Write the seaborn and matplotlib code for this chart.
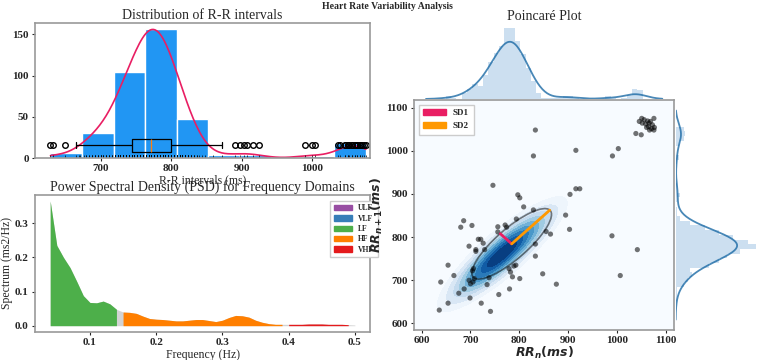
import numpy as np
import pandas as pd
import matplotlib
matplotlib.use("Agg")
import matplotlib.pyplot as plt
from matplotlib.patches import Ellipse, Patch
import seaborn as sns

# R-R intervals (ms) as a frequency table: value -> number of beats
rr_values = [629, 633, 650, 665, 669, 671,
             676, 680, 684, 688, 692, 696, 700, 704, 708, 712, 716,
             720, 724, 728, 732, 736, 740, 744, 748, 752, 756, 760,
             764, 768, 772, 776, 780, 784, 788, 792, 796, 800, 804,
             808, 812, 816, 820, 824, 828, 832, 836, 840, 844, 848,
             860, 872, 891, 897, 903, 908, 916, 924,
             990, 1000, 1004,
             1036, 1040, 1046, 1050, 1052, 1056, 1060, 1064, 1067, 1071, 1073, 1076]
rr_counts = [1, 1, 1, 1, 1, 1,
             1, 2, 2, 3, 3, 3, 4, 3, 3, 3, 3,
             6, 7, 8, 8, 9, 10, 10, 11, 11, 12, 13,
             15, 16, 17, 17, 16, 15, 14, 13, 12, 11, 10,
             9, 8, 7, 6, 5, 4, 3, 2, 1, 1, 1,
             1, 1, 1, 1, 1, 1, 1, 1,
             1, 1, 1,
             1, 1, 2, 2, 1, 2, 2, 2, 2, 1, 1, 1]

# Poincare pairs drawn as dots (outside the SD ellipse)
out_x = [746, 797, 801, 809, 829, 904, 916, 924, 895, 903, 855, 864, 794, 833, 833,
         756, 686, 703, 680, 771, 774, 756, 697, 716, 721, 726, 729, 711, 711,
         654, 666, 687, 676, 699, 697, 700, 705, 708, 704, 706, 654, 636, 639, 722, 741,
         758, 780, 734, 738, 786, 801, 789, 793, 779, 782, 848, 876, 990, 1007, 1042,
         833, 829, 916, 991, 1003, 1039, 1050,
         1051, 1056, 1063, 1069, 1076, 1052, 1059, 1066, 1073, 1065, 1071, 1077, 1067,
         1076, 1046, 1061]
out_y = [920, 898, 891, 870, 863, 899, 912, 912, 851, 818, 813, 807, 842, 784, 756,
         824, 838, 827, 823, 828, 823, 812, 779, 795, 795, 786, 771, 771, 767,
         735, 711, 680, 670, 659, 700, 692, 696, 704, 722, 727, 647, 631, 696, 647, 628,
         667, 680, 690, 706, 708, 704, 733, 735, 727, 719, 715, 691, 803, 711, 771,
         1048, 988, 1001, 988, 1005, 1040, 1037,
         1075, 1072, 1069, 1068, 1075, 1064, 1062, 1064, 1060, 1056, 1051, 1054, 1048,
         1048, 1068, 1054]
# Poincare pairs hidden under the density (each stands for several beats)
in_x = [765, 770, 760, 775, 755, 780, 768, 762, 772, 750, 745, 785, 790, 740, 735,
        795, 758, 778, 766, 752, 782, 748, 774, 760, 730, 800, 810, 725, 720, 805,
        742, 788, 764, 770, 756, 776, 738, 798, 815, 715, 825, 768, 762, 772, 758,
        780, 750, 792, 735, 745]
in_y = [760, 765, 755, 770, 750, 772, 758, 768, 776, 742, 740, 780, 788, 735, 728,
        790, 762, 766, 772, 758, 774, 750, 762, 748, 725, 798, 805, 718, 715, 792,
        748, 778, 770, 758, 744, 780, 742, 786, 812, 708, 818, 764, 760, 768, 760,
        778, 755, 795, 738, 732]
in_weight = 5
sd1 = 33
sd2 = 110

# Power spectral density
freq = [0.04, 0.05, 0.06, 0.07, 0.08, 0.09, 0.10, 0.11, 0.12, 0.13, 0.14, 0.15,
        0.16, 0.17, 0.18, 0.19, 0.20, 0.21, 0.22, 0.23, 0.24, 0.25, 0.26, 0.27,
        0.28, 0.29, 0.30, 0.31, 0.32, 0.33, 0.34, 0.35, 0.36, 0.37, 0.38, 0.39,
        0.40, 0.41, 0.42, 0.43, 0.44, 0.45, 0.46, 0.47, 0.48, 0.49, 0.50]
psd = [0.365, 0.235, 0.200, 0.170, 0.130, 0.088, 0.068, 0.067, 0.072, 0.064, 0.048, 0.040,
       0.039, 0.036, 0.028, 0.021, 0.019, 0.018, 0.016, 0.014, 0.014, 0.016, 0.018, 0.018,
       0.015, 0.012, 0.016, 0.024, 0.030, 0.029, 0.025, 0.016, 0.010, 0.006, 0.004, 0.004,
       0.004, 0.004, 0.004, 0.005, 0.005, 0.005, 0.004, 0.004, 0.004, 0.003, 0.002]
bands = ["ULF", "VLF", "LF", "HF", "VHF"]
band_lims = [(0, 0.0033), (0.0033, 0.04), (0.04, 0.15), (0.15, 0.4), (0.4, 0.5)]
band_colors = ["#984ea3", "#377eb8", "#4daf4a", "#ff7f00", "#e41a1c"]

sns.set_style("ticks")
plt.rcParams["font.family"] = ["Liberation Serif", "DejaVu Serif"]
plt.rcParams["font.weight"] = "bold"
plt.rcParams["axes.edgecolor"] = "0.6"
plt.rcParams["axes.linewidth"] = 1.2
plt.rcParams["xtick.labelsize"] = 8
plt.rcParams["ytick.labelsize"] = 8
plt.rcParams["xtick.major.size"] = 2.5
plt.rcParams["ytick.major.size"] = 2.5
plt.rcParams["xtick.major.pad"] = 2
plt.rcParams["ytick.major.pad"] = 2
plt.rcParams["mathtext.fontset"] = "custom"
plt.rcParams["mathtext.it"] = "DejaVu Sans:italic:bold"
plt.rcParams["mathtext.rm"] = "DejaVu Sans:bold"

rr = np.repeat(rr_values, rr_counts).astype(float)

fig = plt.figure(figsize=(7.6, 3.6), dpi=100)
ax_hist = fig.add_axes([0.046, 0.561, 0.441, 0.375])
ax_psd = fig.add_axes([0.046, 0.078, 0.441, 0.381])
ax_p = fig.add_axes([0.545, 0.083, 0.342, 0.639])
ax_mx = fig.add_axes([0.545, 0.725, 0.342, 0.208])
ax_my = fig.add_axes([0.889, 0.083, 0.111, 0.639])

# --- distribution of R-R intervals
counts, edges = np.histogram(rr, bins=10)
sns.histplot(x=rr, bins=edges, color="#2196F3", edgecolor="white", linewidth=1,
             alpha=1, ax=ax_hist)
sns.kdeplot(x=rr, cut=0, bw_adjust=0.85, color="#E91E63", linewidth=1.2, ax=ax_hist)
kde_line = ax_hist.lines[-1]
yk = kde_line.get_ydata()
kde_line.set_ydata(yk * counts.max() / yk.max())
sns.rugplot(x=rr, height=0.025, color="black", linewidth=0.5, ax=ax_hist)
pos = counts.max() / 10
sns.boxplot(x=rr, y=np.full(len(rr), pos), orient="h", native_scale=True,
            width=pos, fill=False, color="black", linewidth=0.9,
            medianprops={"color": "#ff7f0e"},
            flierprops={"marker": "o", "markersize": 4, "markerfacecolor": "none",
                        "markeredgecolor": "black"}, ax=ax_hist)
ax_hist.set_xlim(607, 1082)
ax_hist.set_ylim(0, counts.max() * 1.05)
ax_hist.set_yticks([0, 50, 100, 150])
ax_hist.set_xticks([700, 800, 900, 1000])
ax_hist.set_title("Distribution of R-R intervals", fontsize=10, fontweight="normal", pad=3)
ax_hist.set_xlabel("R-R intervals (ms)", fontsize=8.5, fontweight="normal", labelpad=1)
ax_hist.set_ylabel("")

# --- power spectral density
freq_a = np.array(freq)
psd_a = np.array(psd)
ax_psd.fill_between(freq_a, 0, psd_a, color="lightgrey", linewidth=0)
handles = []
for name, (lo, hi), col in zip(bands, band_lims, band_colors):
    m = (freq_a >= lo) & (freq_a < hi)
    ax_psd.fill_between(freq_a[m], 0, psd_a[m], color=col, linewidth=0, label=name)
    handles.append(Patch(color=col, label=name))
ax_psd.legend(handles=handles, loc="upper right", bbox_to_anchor=(1.035, 0.985),
              fontsize=5.5, handlelength=2.4, labelspacing=0.3, borderpad=0.5,
              fancybox=False, framealpha=1)
ax_psd.set_xticks([0.1, 0.2, 0.3, 0.4, 0.5])
ax_psd.set_yticks([0.0, 0.1, 0.2, 0.3])
ax_psd.set_title("Power Spectral Density (PSD) for Frequency Domains", fontsize=10,
                 fontweight="normal", pad=3)
ax_psd.set_xlabel("Frequency (Hz)", fontsize=8.5, fontweight="normal", labelpad=1)
ax_psd.set_ylabel("Spectrum (ms2/Hz)", fontsize=8.5, fontweight="normal", labelpad=1)

# --- Poincare plot
rr1 = rr[:-1]
lim = (rr1.max() - rr1.min()) / 10
lo_, hi_ = rr1.min() - lim, rr1.max() + lim
mean_hp = rr.mean()

ax_p.set_facecolor("#f7fbff")
pts = pd.DataFrame({"x": out_x + in_x, "y": out_y + in_y,
                    "w": [1] * len(out_x) + [in_weight] * len(in_x)})
sns.kdeplot(data=pts, x="x", y="y", weights="w", fill=True, cmap="Blues",
            levels=10, thresh=0.25, bw_adjust=1.45, ax=ax_p)
ell = Ellipse(xy=(mean_hp, mean_hp), width=2 * sd2 + 1, height=2 * sd1 + 1, angle=45,
              linewidth=1.2, fill=False, edgecolor="black", alpha=0.5)
ax_p.add_patch(ell)
sns.scatterplot(x=out_x, y=out_y, color="black", alpha=0.55, s=14, edgecolor="none",
                ax=ax_p, zorder=3)
d1 = sd1 * np.sqrt(2) / 2
d2 = sd2 * np.sqrt(2) / 2
ax_p.plot([mean_hp, mean_hp - d1], [mean_hp, mean_hp + d1], color="#E91E63", lw=2, zorder=4)
ax_p.plot([mean_hp, mean_hp + d2], [mean_hp, mean_hp + d2], color="#FF9800", lw=2, zorder=4)
ax_p.legend(handles=[Patch(color="#E91E63", label="SD1"), Patch(color="#FF9800", label="SD2")],
            loc="upper left", fontsize=6.5, handlelength=2.5, borderpad=0.5,
            fancybox=False, framealpha=1)
ax_p.set_xlim(lo_, hi_)
ax_p.set_ylim(lo_, hi_)
ax_p.set_xticks([600, 700, 800, 900, 1000, 1100])
ax_p.set_yticks([600, 700, 800, 900, 1000, 1100])
ax_p.set_xlabel(r"$RR_{n} (ms)$", fontsize=9, labelpad=0)
ax_p.set_ylabel(r"$RR_{n+1} (ms)$", fontsize=9, labelpad=1)

# marginals
sns.histplot(x=rr1, bins=int(len(rr1) / 10), stat="density", color="#ccdff0",
             edgecolor="none", alpha=1, ax=ax_mx)
sns.kdeplot(x=rr1, clip=(lo_, hi_), cut=20, color="#1b6aa5", alpha=0.8, lw=1.3, ax=ax_mx)
ax_mx.axis("off")
ax_mx.set_title("Poincaré Plot", fontsize=10, fontweight="normal", pad=3)

rr2 = rr[1:]
sns.histplot(y=rr2, bins=int(len(rr2) / 10), stat="density", color="#ccdff0",
             edgecolor="none", alpha=1, ax=ax_my)
sns.kdeplot(y=rr2, clip=(lo_, hi_), cut=20, color="#1b6aa5", alpha=0.8, lw=1.3, ax=ax_my)
ax_my.axis("off")

fig.suptitle("Heart Rate Variability Analysis", fontsize=7, fontweight="bold",
             x=0.51, y=0.995)

fig.savefig("out.png", dpi=100)
